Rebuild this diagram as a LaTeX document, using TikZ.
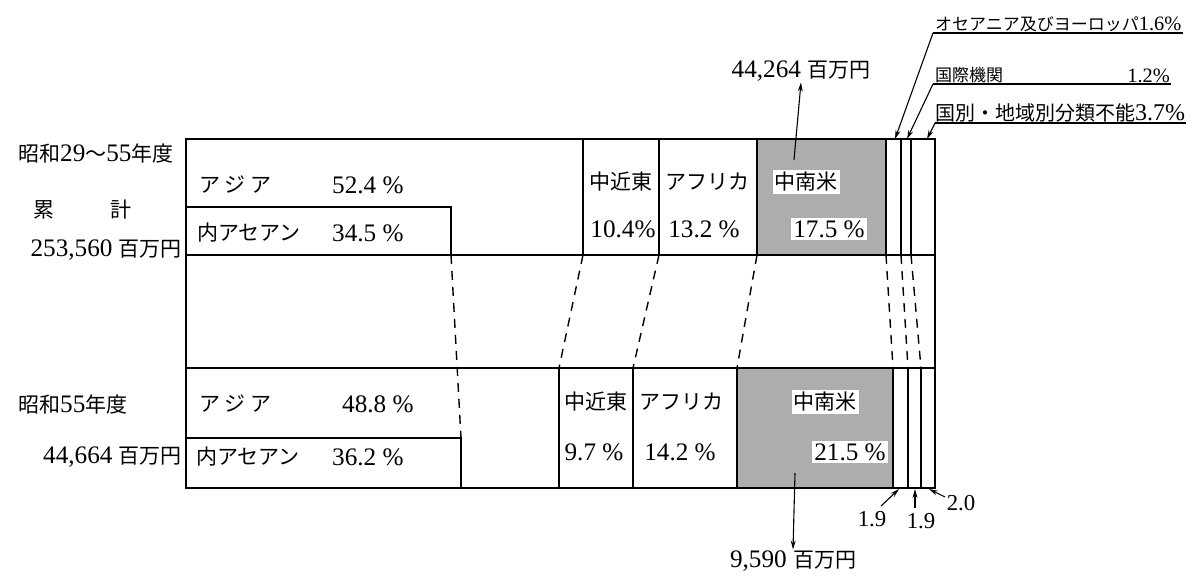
\documentclass[tikz,border=0pt]{standalone}
\usepackage{fontspec}
\setmainfont{Liberation Serif}[Scale=1.2]
\newfontfamily\jp{Noto Sans CJK JP}
\usetikzlibrary{arrows.meta}

\begin{document}
\begin{tikzpicture}[
    x=1pt, y=-1pt,
    mylabel/.style={
    inner sep=1pt,
    font=\fontsize{21}{24}\selectfont},
    mynote/.style={
    inner sep=1pt,
    font=\fontsize{17}{20}\selectfont},
    mybox/.style={fill=white, inner sep=2pt},
    myshade/.style={fill=black!32},
    myline/.style={line width=1.4pt},
    mydash/.style={line width=1.4pt, dash pattern=on 9pt off 7pt},
    myarrow/.style={-{Stealth[length=9pt,width=5pt]}, line width=1.1pt}
    ]
    \useasboundingbox (0,0) rectangle (1192,584);

    % shaded parts (中南米)
    \fill[myshade] (757,139) rectangle (886,255);
    \fill[myshade] (737,368) rectangle (893,488);

    % frame
    \draw[line width=1.8pt] (186,139) rectangle (935,488);
    \draw[myline] (186,255) -- (935,255);
    \draw[myline] (186,368) -- (935,368);

    % points on the two bars
    \coordinate (ua) at (451,255);
    \coordinate (ub) at (583,255);
    \coordinate (uc) at (659,255);
    \coordinate (ud) at (757,255);
    \coordinate (ue) at (886,255);
    \coordinate (uf) at (901,255);
    \coordinate (ug) at (911,255);
    \coordinate (la) at (461,438);
    \coordinate (lb) at (559,368);
    \coordinate (lc) at (633,368);
    \coordinate (ld) at (737,368);
    \coordinate (le) at (893,368);
    \coordinate (lf) at (908,368);
    \coordinate (lg) at (921,368);

    % upper bar
    \draw[myline] (186,207) -| (ua);
    \draw[myline] (583,139) -- (ub);
    \draw[myline] (659,139) -- (uc);
    \draw[myline] (757,139) -- (ud);
    \draw[myline] (886,139) -- (ue);
    \draw[myline] (901,139) -- (uf);
    \draw[myline] (911,139) -- (ug);

    % lower bar
    \draw[myline] (186,438) -- (la) -- (461,488);
    \draw[myline] (lb) -- (559,488);
    \draw[myline] (lc) -- (633,488);
    \draw[myline] (ld) -- (737,488);
    \draw[myline] (le) -- (893,488);
    \draw[myline] (lf) -- (908,488);
    \draw[myline] (lg) -- (921,488);

    % dashed links
    \draw[mydash] (ua) -- (la);
    \draw[mydash] (ub) -- (lb);
    \draw[mydash] (uc) -- (lc);
    \draw[mydash] (ud) -- (ld);
    \draw[mydash] (ue) -- (le);
    \draw[mydash] (uf) -- (lf);
    \draw[mydash] (ug) -- (lg);

    % left labels
    \node[mylabel, anchor=west] (yr1) at (17,153) {{\jp 昭和}29{\jp ～}55{\jp 年度}};
    \node[mylabel] (cum1) at (44,210) {\jp 累};
    \node[mylabel] (cum2) at (121,210) {\jp 計};
    \node[mylabel, anchor=east] (tot1) at (183,250) {253,560 {\jp 百万円}};
    \node[mylabel, anchor=west] (yr2) at (17,404) {{\jp 昭和}55{\jp 年度}};
    \node[mylabel, anchor=east] (tot2) at (183,457) {44,664 {\jp 百万円}};

    % upper bar labels
    \node[mylabel, anchor=west] (asia1) at (198,185) {\jp ア ジ ア};
    \node[mylabel, anchor=west] (asiap1) at (331,185) {52.4 \%};
    \node[mylabel, anchor=west] (asean1) at (196,233) {\jp 内アセアン};
    \node[mylabel, anchor=west] (aseanp1) at (331,233) {34.5 \%};
    \node[mylabel] (me1) at (621,182) {\jp 中近東};
    \node[mylabel] (mep1) at (623,229) {10.4\%};
    \node[mylabel] (af1) at (707,182) {\jp アフリカ};
    \node[mylabel] (afp1) at (704,229) {13.2 \%};
    \node[mylabel, mybox] (la1) at (806,182) {\jp 中南米};
    \node[mylabel, mybox] (lap1) at (829,229) {17.5 \%};

    % lower bar labels
    \node[mylabel, anchor=west] (asia2) at (198,404) {\jp ア ジ ア};
    \node[mylabel, anchor=west] (asiap2) at (341,404) {48.8 \%};
    \node[mylabel, anchor=west] (asean2) at (195,457) {\jp 内アセアン};
    \node[mylabel, anchor=west] (aseanp2) at (331,457) {36.2 \%};
    \node[mylabel] (me2) at (596,402) {\jp 中近東};
    \node[mylabel] (mep2) at (594,452) {9.7 \%};
    \node[mylabel] (af2) at (681,402) {\jp アフリカ};
    \node[mylabel] (afp2) at (680,452) {14.2 \%};
    \node[mylabel, mybox] (la2) at (825,402) {\jp 中南米};
    \node[mylabel, mybox] (lap2) at (850,452) {21.5 \%};

    % amounts of 中南米
    \node[mylabel] (amt1) at (801,71) {44,264 {\jp 百万円}};
    \coordinate (amt1s) at (794,160);
    \draw[myarrow] (amt1s) -- (amt1.south);
    \node[mylabel] (amt2) at (793,561) {9,590 {\jp 百万円}};
    \coordinate (amt2s) at (795,473);
    \draw[myarrow] (amt2s) -- (amt2.north);

    % notes, upper right
    \node[mynote, anchor=south west] (oce) at (934,33) {{\jp オセアニア及びヨーロッパ}1.6\%};
    \node[mynote, anchor=south west] (intl) at (934,84) {\jp 国際機関};
    \node[mynote, anchor=south east] (intlp) at (1171,84) {1.2\%};
    \node[mynote, anchor=south west, font=\fontsize{20}{22}\selectfont] (uncl) at (934,123) {{\jp 国別・地域別分類不能}3.7\%};
    \coordinate (oceo) at (933,33);
    \coordinate (intlo) at (933,84);
    \coordinate (unclo) at (935,123);
    \coordinate (ocet) at (895,139);
    \coordinate (intlt) at (907,139);
    \coordinate (unclt) at (927,139);
    \draw[line width=1.1pt] (oceo) -- (oce.south east);
    \draw[line width=1.1pt] (intlo) -- (intlp.south east);
    \draw[line width=1.1pt] (unclo) -- (uncl.south east);
    \draw[myarrow] (oceo) -- (ocet);
    \draw[myarrow] (intlo) -- (intlt);
    \draw[myarrow] (unclo) -- (unclt);

    % notes, lower right
    \node[mynote, font=\fontsize{19}{22}\selectfont] (sm1) at (872,519) {1.9};
    \node[mynote, font=\fontsize{19}{22}\selectfont] (sm2) at (921,521) {1.9};
    \node[mynote, font=\fontsize{19}{22}\selectfont] (sm3) at (961,503) {2.0};
    \coordinate (sm1t) at (899,489);
    \coordinate (sm2t) at (915,489);
    \coordinate (sm3t) at (929,489);
    \draw[myarrow] (881,506) -- (sm1t);
    \draw[myarrow] (915,508) -- (sm2t);
    \draw[myarrow] (945,497) -- (sm3t);
\end{tikzpicture}
\end{document}
